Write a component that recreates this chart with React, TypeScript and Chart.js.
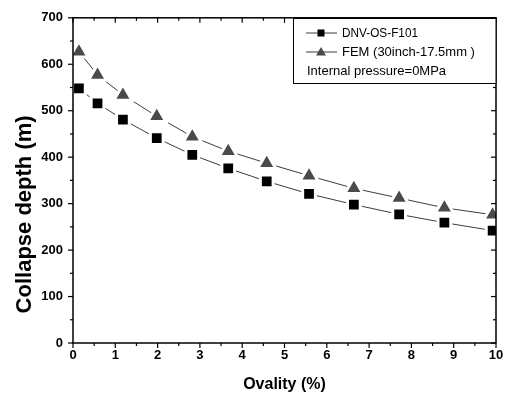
import React, { useEffect, useRef } from 'react';
import { Chart, registerables } from 'chart.js';

Chart.register(...registerables);

// ---- data ----
const ovality = [0.14, 0.58, 1.18, 1.98, 2.82, 3.67, 4.58, 5.58, 6.64, 7.71, 8.78, 9.92];
const dnvDepth = [548, 516, 481, 441, 405, 376, 348, 321, 298, 277, 259, 242];
const femDepth = [627, 577, 534, 488, 444, 413, 387, 360, 333, 312, 291, 276];
const seriesNames = ['DNV-OS-F101', 'FEM (30inch-17.5mm )'];
const legendNote = 'Internal pressure=0MPa';
const xTitle = 'Ovality (%)';
const yTitle = 'Collapse depth (m)';
const xRange = [0, 10];
const yRange = [0, 700];
const xMajorStep = 1;
const yMajorStep = 100;

const FONT = '"Liberation Sans", Arial, Helvetica, sans-serif';
const LINE_COLOR = '#3c3c3c';
const TRI_COLOR = '#4a4a4a';

const framePlugin = {
  id: 'frame',
  afterDraw(chart: any) {
    const ctx = chart.ctx;
    const xs = chart.scales.x;
    const ys = chart.scales.y;
    const { left, right, top, bottom } = chart.chartArea;
    ctx.save();
    ctx.strokeStyle = '#000';
    ctx.lineWidth = 1.5;
    ctx.strokeRect(left, top, right - left, bottom - top);

    ctx.lineWidth = 1.2;
    const line = (x1: number, y1: number, x2: number, y2: number) => {
      ctx.beginPath();
      ctx.moveTo(x1, y1);
      ctx.lineTo(x2, y2);
      ctx.stroke();
    };
    for (let i = 0; i <= (xRange[1] - xRange[0]) * 2; i++) {
      const v = xRange[0] + i * xMajorStep / 2;
      const px = xs.getPixelForValue(v);
      const len = i % 2 === 0 ? 5 : 3;
      line(px, bottom, px, bottom + len);
      line(px, top, px, top + len);
    }
    for (let i = 0; i <= (yRange[1] - yRange[0]) / yMajorStep * 2; i++) {
      const v = yRange[0] + i * yMajorStep / 2;
      const py = ys.getPixelForValue(v);
      const len = i % 2 === 0 ? 5 : 3;
      line(left - len, py, left, py);
      line(right - len, py, right, py);
    }

    // y axis title
    ctx.fillStyle = '#000';
    ctx.font = `bold 22px ${FONT}`;
    ctx.textAlign = 'center';
    ctx.textBaseline = 'middle';
    ctx.save();
    ctx.translate(25, (top + bottom) / 2 + 34);
    ctx.rotate(-Math.PI / 2);
    ctx.fillText(yTitle, 0, 0, 217);
    ctx.restore();

    // legend
    const bx = 293, by = 18.5, bw = right - 293, bh = 65;
    ctx.fillStyle = '#fff';
    ctx.fillRect(bx, by, bw, bh);
    ctx.lineWidth = 1;
    ctx.strokeStyle = '#000';
    ctx.strokeRect(bx + 0.5, by, bw - 0.5, bh);

    const rows = [33, 52, 71];
    ctx.strokeStyle = LINE_COLOR;
    ctx.lineWidth = 1;
    line(306, rows[0], 337, rows[0]);
    line(306, rows[1], 337, rows[1]);
    ctx.fillStyle = '#000';
    ctx.fillRect(321 - 3.5, rows[0] - 3.5, 7, 7);
    ctx.fillStyle = TRI_COLOR;
    ctx.beginPath();
    ctx.moveTo(321, rows[1] - 5);
    ctx.lineTo(326, rows[1] + 3.5);
    ctx.lineTo(316, rows[1] + 3.5);
    ctx.closePath();
    ctx.fill();

    ctx.fillStyle = '#000';
    ctx.font = `13px ${FONT}`;
    ctx.textAlign = 'left';
    ctx.textBaseline = 'middle';
    ctx.fillText(seriesNames[0], 342, rows[0] + 0.5, 76);
    ctx.fillText(seriesNames[1], 342, rows[1] + 0.5, 142);
    ctx.fillText(legendNote, 307, rows[2] + 0.5, 148);
    ctx.restore();
  },
};

export default function App() {
  const ref = useRef<HTMLCanvasElement | null>(null);
  useEffect(() => {
    if (!ref.current) return;
    const chart = new Chart(ref.current, {
      type: 'line',
      data: {
        datasets: [
          {
            label: seriesNames[0],
            data: ovality.map((x, i) => ({ x, y: dnvDepth[i] })),
            borderColor: LINE_COLOR,
            borderWidth: 1,
            backgroundColor: '#000',
            pointStyle: 'rect',
            pointRadius: 9,
            pointBackgroundColor: '#000',
            pointBorderColor: '#fff',
            pointBorderWidth: 3,
            tension: 0,
          },
          {
            label: seriesNames[1],
            data: ovality.map((x, i) => ({ x, y: femDepth[i] })),
            borderColor: LINE_COLOR,
            borderWidth: 1,
            backgroundColor: TRI_COLOR,
            pointStyle: 'triangle',
            pointRadius: 10.5,
            pointBackgroundColor: TRI_COLOR,
            pointBorderColor: '#fff',
            pointBorderWidth: 3,
            tension: 0,
          },
        ],
      },
      options: {
        animation: false,
        responsive: false,
        layout: { padding: { top: 11, right: 15, left: 0, bottom: 0 } },
        plugins: { legend: { display: false }, tooltip: { enabled: false } },
        scales: {
          x: {
            type: 'linear',
            min: xRange[0],
            max: xRange[1],
            grid: { display: false, drawTicks: false },
            border: { display: false },
            ticks: {
              stepSize: xMajorStep,
              color: '#000',
              font: { family: FONT, size: 13, weight: 'bold' },
              padding: 5,
              maxRotation: 0,
              autoSkip: false,
            },
            title: {
              display: true,
              text: xTitle,
              color: '#000',
              font: { family: FONT, size: 16, weight: 'bold' },
              padding: { top: 0, bottom: 3 },
            },
            afterFit: (s: any) => { s.height = 54; },
          },
          y: {
            type: 'linear',
            min: yRange[0],
            max: yRange[1],
            grid: { display: false, drawTicks: false },
            border: { display: false },
            ticks: {
              stepSize: yMajorStep,
              color: '#000',
              font: { family: FONT, size: 13, weight: 'bold' },
              padding: 10,
            },
            afterFit: (s: any) => { s.width = 73; },
          },
        },
      },
      plugins: [framePlugin],
    } as any);
    return () => chart.destroy();
  }, []);
  return (
    <div style={{ position: 'absolute', left: 0, top: 0, width: 511, height: 397, background: '#fff' }}>
      <canvas ref={ref} width={511} height={397} />
    </div>
  );
}
